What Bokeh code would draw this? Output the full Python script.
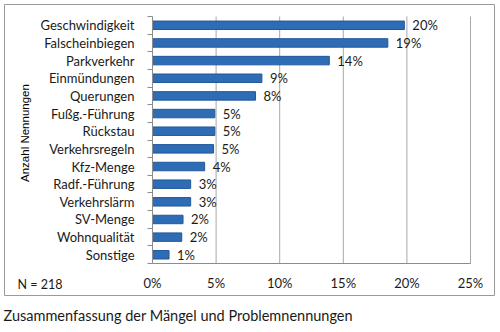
import math
from bokeh.plotting import figure
from bokeh.models import ColumnDataSource, Range1d, FixedTicker, Label, Title
from bokeh.core.properties import value
from bokeh.embed import file_html
from bokeh.resources import INLINE

# ---- data ----
categories = ["Geschwindigkeit", "Falscheinbiegen", "Parkverkehr", "Einmündungen",
              "Querungen", "Fußg.-Führung", "Rückstau", "Verkehrsregeln", "Kfz-Menge",
              "Radf.-Führung", "Verkehrslärm", "SV-Menge", "Wohnqualität", "Sonstige"]
shares = [19.8, 18.5, 13.9, 8.6, 8.1, 4.9, 4.9, 4.8, 4.1, 3.0, 3.0, 2.4, 2.3, 1.3]
share_labels = ["20%", "19%", "14%", "9%", "8%", "5%", "5%", "5%", "4%", "3%", "3%",
                "2%", "2%", "1%"]
x_ticks = [0, 5, 10, 15, 20, 25]
x_tick_labels = ["0%", "5%", "10%", "15%", "20%", "25%"]
caption = "Zusammenfassung der Mängel und Problemnennungen"
sample_note = "N = 218"
axis_title = "Anzahl Nennungen"

# ---- layout (pixels) ----
W, H = 500, 332
BOX_L, BOX_R, BOX_T, BOX_B = 4, 494, 4, 296      # chart box = plot frame
PL, PR, PT, PB = 152, 470, 16, 264               # bar area inside the box
FONT = "Lato"
FS = "13px"
XMAX = x_ticks[-1]
n = len(categories)
ys = list(range(1, n + 1))
Y_TOP, Y_BOT = 0.5, n + 0.5


def dx(px):
    return (px - PL) / (PR - PL) * XMAX


def dy(py):
    return Y_TOP + (py - PT) / (PB - PT) * n


src = ColumnDataSource(dict(y=ys, share=shares, label=share_labels, cat=categories))
grid_src = ColumnDataSource(dict(x=x_ticks[1:]))

p = figure(width=W, height=H, output_backend="svg", toolbar_location=None,
           x_range=Range1d(dx(BOX_L), dx(BOX_R)),
           y_range=Range1d(dy(BOX_B), dy(BOX_T)),
           min_border_left=BOX_L, min_border_right=W - BOX_R,
           min_border_top=BOX_T, min_border_bottom=H - BOX_B)
p.outline_line_color = "#9a9a9a"
p.background_fill_color = "white"
p.border_fill_color = "white"
p.xgrid.grid_line_color = None
p.ygrid.grid_line_color = None

# vertical gridlines limited to the bar area
p.segment(x0="x", x1="x", y0=Y_TOP, y1=Y_BOT, source=grid_src,
          line_color="#a8a8a8", line_width=1)

p.hbar(y="y", left=0, right="share", height=0.48, source=src,
       fill_color="#2e6db5", line_color="#22579a", line_width=1)
p.text(x="share", y="y", text="label", source=src, x_offset=8,
       text_baseline="middle", text_align="left",
       text_font=value(FONT), text_font_size=FS, text_color="#1a1a1a")

# x axis, drawn at the bottom of the bar area
xa = p.xaxis[0]
xa.fixed_location = Y_BOT
xa.bounds = (0, XMAX)
xa.ticker = FixedTicker(ticks=x_ticks)
xa.major_label_overrides = dict(zip(x_ticks, x_tick_labels))
xa.major_tick_out = 0
xa.major_tick_in = 0
xa.minor_tick_out = 0
xa.minor_tick_in = 0
xa.axis_line_color = "#8c8c8c"
xa.major_label_standoff = 11
xa.major_label_text_font = FONT
xa.major_label_text_font_size = FS
xa.major_label_text_color = "#1a1a1a"

# y axis, drawn at 0 %
ya = p.yaxis[0]
ya.fixed_location = 0
ya.bounds = (Y_TOP, Y_BOT)
ya.ticker = FixedTicker(ticks=ys, minor_ticks=[Y_TOP + i for i in range(n + 1)])
ya.major_label_overrides = dict(zip(ys, categories))
ya.major_tick_out = 0
ya.major_tick_in = 0
ya.minor_tick_out = 5
ya.minor_tick_in = 0
ya.minor_tick_line_color = "#8c8c8c"
ya.axis_line_color = "#8c8c8c"
ya.major_label_standoff = 13
ya.major_label_text_font = FONT
ya.major_label_text_font_size = FS
ya.major_label_text_color = "#1a1a1a"

p.add_layout(Label(x=dx(24), y=dy(133), text=axis_title, angle=math.pi / 2,
                   text_align="center", text_baseline="middle",
                   text_font="Liberation Sans", text_font_size="11.5px",
                   text_color="#000000"))
p.add_layout(Label(x=dx(17), y=dy(285), text=sample_note,
                   text_align="left", text_baseline="middle",
                   text_font=FONT, text_font_size="12.5px", text_color="#1a1a1a"))

p.add_layout(Title(text=caption, align="left", text_font=FONT,
                   text_font_size="14.5px", text_font_style="normal",
                   text_color="#1a1a1a", standoff=18, offset=-1), "below")

open("out.html", "w").write(file_html(p, INLINE))
